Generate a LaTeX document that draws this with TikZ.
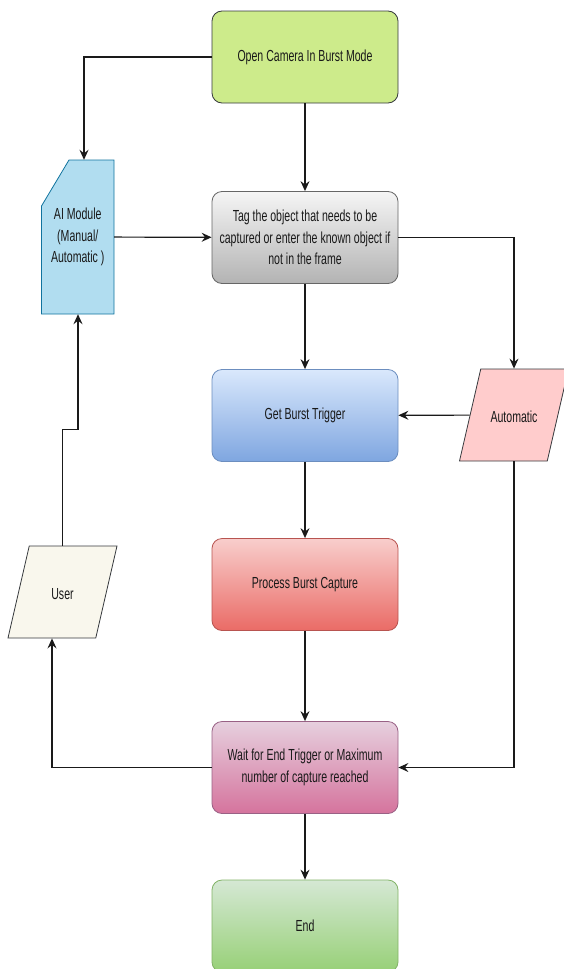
\documentclass[tikz,border=0pt]{standalone}
\usepackage{fontspec}
\setmainfont{Liberation Sans}[FakeStretch=0.66]
\usepackage{tikz}
\usetikzlibrary{arrows.meta,shapes.geometric}
\definecolor{lnk}{HTML}{1A1A1A}
\definecolor{camfill}{HTML}{CDEB8B}
\definecolor{darkline}{HTML}{36393D}
\definecolor{graytop}{HTML}{F5F5F5}
\definecolor{graybot}{HTML}{B3B3B3}
\definecolor{grayline}{HTML}{666666}
\definecolor{bluetop}{HTML}{DAE8FC}
\definecolor{bluebot}{HTML}{7EA6E0}
\definecolor{blueline}{HTML}{6C8EBF}
\definecolor{redtop}{HTML}{F8CECC}
\definecolor{redbot}{HTML}{EA6B66}
\definecolor{redline}{HTML}{B85450}
\definecolor{pinktop}{HTML}{E6D0DE}
\definecolor{pinkbot}{HTML}{D5739D}
\definecolor{pinkline}{HTML}{996185}
\definecolor{greentop}{HTML}{D5E8D4}
\definecolor{greenbot}{HTML}{97D077}
\definecolor{greenline}{HTML}{82B366}
\definecolor{aifill}{HTML}{B1DDF0}
\definecolor{ailine}{HTML}{10739E}
\definecolor{autofill}{HTML}{FFCCCC}
\definecolor{userfill}{HTML}{F9F7ED}
\tikzstyle{edge}=[
	-{Stealth[length=10pt,width=9pt,inset=3.5pt]},
	draw=lnk,
	line width=1.2pt
]
\tikzstyle{tvert}=[
	font=\fontsize{16}{21.5}\selectfont,
	text=black!90,
	align=center,
	inner sep=1mm
]
\tikzstyle{step box}=[
	tvert,
	rectangle,
	rounded corners=10pt,
	minimum width=186pt,
	minimum height=92pt,
	line width=0.8pt
]
\tikzstyle{io box}=[
	tvert,
	trapezium,
	trapezium left angle=77,
	trapezium right angle=103,
	trapezium stretches body=true,
	text height=15pt,
	text depth=1pt,
	inner ysep=38pt,
	minimum width=109pt,
	line width=0.8pt,
	draw=darkline
]

\begin{document}
\begin{tikzpicture}[x=1pt, y=-1pt]
\useasboundingbox (0,0) rectangle (563,969);

% main column
\node[step box, fill=camfill, draw=darkline] at (305,57) (cam) {Open Camera In Burst Mode};
\node[step box, top color=graytop, bottom color=graybot, draw=grayline] at (305,237.5) (tag)
    {Tag the object that needs to be\\captured or enter the known object if\\not in the frame};
\node[step box, top color=bluetop, bottom color=bluebot, draw=blueline] at (305,415.5) (burst) {Get Burst Trigger};
\node[step box, top color=redtop, bottom color=redbot, draw=redline] at (305,584.5) (capture) {Process Burst Capture};
\node[step box, top color=pinktop, bottom color=pinkbot, draw=pinkline] at (305,767.5) (wait)
    {Wait for End Trigger or Maximum\\number of capture reached};
\node[step box, top color=greentop, bottom color=greenbot, draw=greenline] at (305,926) (fin) {End};

% side inputs
\filldraw[fill=aifill, draw=ailine, line width=0.8pt]
    (69,160) -- (114,160) -- (114,314) -- (41.5,314) -- (41.5,206) -- cycle;
\node[tvert, minimum width=72.5pt, minimum height=154pt] at (77.75,237) (ai) {AI Module\\(Manual/\\Automatic )};
\node[io box, fill=autofill] at (514,415) (auto) {Automatic};
\node[io box, fill=userfill] at (62.5,592) (user) {User};

% links
\draw[edge] (cam.west) -| ([xshift=6.25pt]ai.north);
\draw[edge] (cam) -- (tag);
\draw[edge] (ai) -- (tag);
\draw[edge] (tag.east) -| (auto.north);
\draw[edge] (auto) -- (burst);
\draw[edge] (tag) -- (burst);
\draw[edge] (burst) -- (capture);
\draw[edge] (capture) -- (wait);
\draw[edge] (auto.south) |- (wait.east);
\draw[edge] (wait) -- (fin);
\draw[edge] (wait.west) -| ([xshift=-10.5pt]user.south);
\draw[edge] (user.north) -- ++(0,-116) -| ([xshift=0.25pt]ai.south);

\end{tikzpicture}
\end{document}
